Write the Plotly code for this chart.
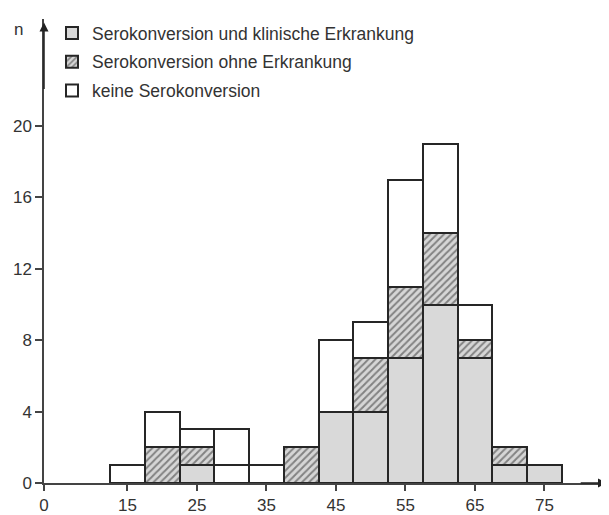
import plotly.graph_objects as go

# Data
age = [15, 20, 25, 30, 35, 40, 45, 50, 55, 60, 65, 70, 75]
sero_krank = [0, 0, 1, 0, 0, 0, 4, 4, 7, 10, 7, 1, 1]
sero_ohne = [0, 2, 1, 0, 0, 2, 0, 3, 4, 4, 1, 1, 0]
keine_unten = [0, 0, 0, 1, 0, 0, 0, 0, 0, 0, 0, 0, 0]
keine_oben = [1, 2, 1, 2, 1, 0, 4, 2, 6, 5, 2, 0, 0]
names = ["Serokonversion und klinische Erkrankung",
         "Serokonversion ohne Erkrankung",
         "keine Serokonversion"]
x_tickvals = [3, 15, 25, 35, 45, 55, 65, 75]
x_ticktext = ["0", "15", "25", "35", "45", "55", "65", "75"]
y_ticks = [0, 4, 8, 12, 16, 20]

# page has an 8px body margin; figure coordinates are page - 8
W, H = 601, 507
L, R, T, B = 36, 2, 11, 32
pw, ph = W - L - R, H - T - B

ink = "#262626"
line = dict(color=ink, width=2)
fig = go.Figure()
fig.add_bar(x=age, y=sero_krank, width=5, name=names[0], legendgroup="a",
            marker=dict(color="#d9d9d9", line=line))
fig.add_bar(x=age, y=sero_ohne, width=5, name=names[1], legendgroup="b",
            marker=dict(color="#d9d9d9", line=line,
                        pattern=dict(shape="/", fgcolor="#2e2e2e", bgcolor="#d6d6d6",
                                     size=5, solidity=0.4)))
fig.add_bar(x=age, y=keine_unten, width=5, name=names[2], legendgroup="c",
            showlegend=False, marker=dict(color="white", line=line))
fig.add_bar(x=age, y=keine_oben, width=5, name=names[2], legendgroup="c",
            marker=dict(color="white", line=line))

font = dict(family="Liberation Sans, Arial, sans-serif", size=17, color="#333333")
fig.update_layout(
    width=W, height=H,
    margin=dict(l=L, r=R, t=T, b=B, autoexpand=False),
    barmode="stack", bargap=0,
    plot_bgcolor="white", paper_bgcolor="white",
    font=font,
    showlegend=True,
    legend=dict(x=(44 - L) / pw, y=1 + 4 / ph, xanchor="left", yanchor="top",
                font=dict(size=17.5, color="#333333"), tracegroupgap=3,
                bgcolor="rgba(0,0,0,0)"),
    xaxis=dict(range=[3, 84], tickvals=x_tickvals, ticktext=x_ticktext,
               ticks="outside", ticklen=6, tickwidth=1.5, tickcolor="#444",
               showline=True, linecolor="#444", linewidth=1.5, automargin=False,
               showgrid=False, zeroline=False, tickfont=dict(size=17)),
    yaxis=dict(range=[0, 26], tickvals=y_ticks, ticks="outside", ticklen=7,
               tickwidth=1.5, tickcolor="#444", automargin=False,
               showline=True, linecolor="#444", linewidth=1.5,
               showgrid=False, zeroline=False, tickfont=dict(size=17)),
)
# axis arrows
fig.add_annotation(x=84, y=0, ax=80, ay=0, xref="x", yref="y", axref="x", ayref="y",
                   text="", showarrow=True, arrowhead=2, arrowsize=1.2,
                   arrowwidth=1.5, arrowcolor="#222", standoff=0)
fig.add_annotation(x=3, y=25.8, ax=3, ay=22, xref="x", yref="y", axref="x", ayref="y",
                   text="", showarrow=True, arrowhead=2, arrowsize=1.2,
                   arrowwidth=1.5, arrowcolor="#222", standoff=0)
fig.add_annotation(x=(4 - L) / pw, y=(H - B - 10) / ph, xref="paper", yref="paper",
                   text="n", showarrow=False, font=dict(size=17, color="#333333"))
fig.write_html("out.html")
